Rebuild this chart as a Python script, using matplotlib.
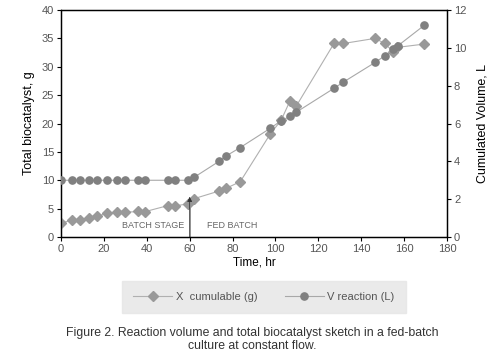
import matplotlib
matplotlib.use("Agg")
import matplotlib.pyplot as plt

# Data
time_x = [0, 5, 9, 13, 17, 21.5, 26, 30, 36, 39, 50, 53, 59, 62, 73.7, 76.8, 83.6,
          97.5, 102.7, 106.8, 109.6, 127.3, 131.7, 146.5, 151, 155, 156.5, 169.5]
x_cumulable = [2.4, 3.0, 3.0, 3.3, 3.7, 4.15, 4.35, 4.35, 4.5, 4.45, 5.55, 5.45, 5.85, 6.75,
               8.1, 8.55, 9.75, 18.1, 20.6, 24.0, 23.0, 34.1, 34.1, 35.0, 34.1, 32.6, 33.4, 34.0]
time_v = [0, 5, 9, 13, 17, 21.5, 26, 30, 36, 39, 50, 53, 59, 62, 73.7, 76.8, 83.6,
          97.5, 102.7, 106.8, 109.6, 127.3, 131.7, 146.5, 151, 155, 157, 169.5]
v_reaction = [3.0, 3.0, 3.0, 3.0, 3.0, 3.0, 3.0, 3.0, 3.0, 3.0, 3.0, 3.0, 3.0, 3.15,
              4.0, 4.27, 4.73, 5.74, 6.15, 6.38, 6.59, 7.86, 8.19, 9.23, 9.58, 9.94, 10.1, 11.2]
x_ticks = [0, 20, 40, 60, 80, 100, 120, 140, 160, 180]
left_ticks = [0, 5, 10, 15, 20, 25, 30, 35, 40]
right_ticks = [0, 2, 4, 6, 8, 10, 12]

plt.rcParams['font.family'] = ['Liberation Sans', 'DejaVu Sans']
tick_col = '#555555'

fig = plt.figure(figsize=(4.97, 3.57), dpi=100)
ax = fig.add_axes([0.1227, 0.3361, 0.7767, 0.6359])
ax2 = ax.twinx()

ax.plot(time_x, x_cumulable, color='#b0b0b0', lw=0.8, marker='D', ms=5,
        mfc='#999999', mec='#999999', label='X  cumulable (g)', zorder=3)
ax2.plot(time_v, v_reaction, color='#a8a8a8', lw=0.8, marker='o', ms=5.2,
         mfc='#808080', mec='#808080', label='V reaction (L)', zorder=3)

ax.set_xlim(0, 180)
ax.set_ylim(0, 40)
ax2.set_ylim(0, 12)
ax.set_xticks(x_ticks)
ax.set_yticks(left_ticks)
ax2.set_yticks(right_ticks)

for a in (ax, ax2):
    a.tick_params(direction='out', length=3, width=0.8, labelsize=8, labelcolor=tick_col, pad=2)
    for s in a.spines.values():
        s.set_linewidth(0.9)

ax.set_xlabel('Time, hr', fontsize=8.5, labelpad=2)
ax.set_ylabel('Total biocatalyst, g', fontsize=9, labelpad=5)
ax2.set_ylabel('Cumulated Volume, L', fontsize=9, labelpad=7)

# annotations
ax.annotate('', xy=(60, 7.1), xytext=(60, 0),
            arrowprops=dict(arrowstyle='-|>', color='#333333', lw=0.6, mutation_scale=7,
                            shrinkA=0, shrinkB=0))
ax.plot([60, 60], [0, 6.5], color='#888888', lw=0.6)
ax.text(43, 2.1, 'BATCH STAGE', fontsize=6.5, color='#666666', ha='center', va='center')
ax.text(80, 2.1, 'FED BATCH', fontsize=6.5, color='#666666', ha='center', va='center')

# legend
h1, l1 = ax.get_legend_handles_labels()
h2, l2 = ax2.get_legend_handles_labels()
leg = fig.legend(h1 + h2, l1 + l2, loc='center', bbox_to_anchor=(0.531, 0.167), ncol=2,
                 fontsize=8, frameon=True, fancybox=False, handlelength=3.5,
                 columnspacing=2.5, borderpad=1.0, handletextpad=0.3)
leg.get_frame().set_facecolor('#e5e5e5')
leg.get_frame().set_edgecolor('#e5e5e5')
for t in leg.get_texts():
    t.set_color('#555555')

fig.text(0.508, 0.048, 'Figure 2. Reaction volume and total biocatalyst sketch in a fed-batch\nculture at constant flow.',
         ha='center', va='center', fontsize=8.8, color='#333333', linespacing=1.1)

fig.savefig('out.png', dpi=100)
